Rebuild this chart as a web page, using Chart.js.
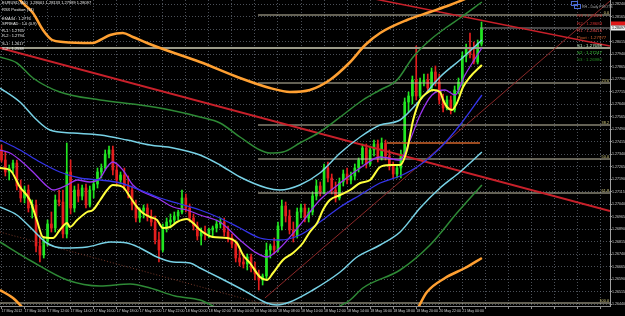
<!DOCTYPE html>
<html>
<head>
<meta charset="utf-8">
<script src="https://cdn.jsdelivr.net/npm/chart.js@4.4.1/dist/chart.umd.min.js"></script>
<style>
  html, body { margin: 0; padding: 0; background: #000; }
  canvas { display: block; background: #000; }
</style>
</head>
<body>
<canvas id="chart" width="625" height="316"></canvas>
<script>
// EURUSD bars, left to right
const opens = [
  1.27365, 1.27305, 1.27233, 1.27257, 1.27287, 1.27149, 1.27077, 1.27125, 1.27017, 1.27035,
  1.26789, 1.26735, 1.26819, 1.26921, 1.26897, 1.27065, 1.27053, 1.26861, 1.27233, 1.27017,
  1.27125, 1.27089, 1.27137, 1.27035, 1.27125, 1.27161, 1.27233, 1.27257, 1.27341, 1.27365,
  1.27245, 1.27185, 1.27215, 1.27149, 1.27125, 1.27035, 1.26957, 1.26999, 1.27017, 1.26963,
  1.26933, 1.26825, 1.26765, 1.26897, 1.26933, 1.26945, 1.26969, 1.26993, 1.27077, 1.27017,
  1.26957, 1.26909, 1.26849, 1.26873, 1.26861, 1.26885, 1.26897, 1.26921, 1.26933, 1.26873,
  1.26837, 1.26801, 1.26717, 1.26693, 1.26681, 1.26723, 1.26657, 1.26621, 1.26585, 1.26609,
  1.26765, 1.26789, 1.26765, 1.26909, 1.27029, 1.26969, 1.26885, 1.26849, 1.26993, 1.27017,
  1.26957, 1.26993, 1.27089, 1.27149, 1.27113, 1.27257, 1.27197, 1.27125, 1.27077, 1.27173,
  1.27221, 1.27185, 1.27209, 1.27257, 1.27305, 1.27377, 1.27281, 1.27365, 1.27401, 1.27317,
  1.27407, 1.27329, 1.27269, 1.27221, 1.27257, 1.27341, 1.27653, 1.27689, 1.27785, 1.27689,
  1.27773, 1.27785, 1.27737, 1.27833, 1.27773, 1.27665, 1.27617, 1.27665, 1.27605, 1.27725,
  1.27773, 1.27929, 1.27977, 1.27941, 1.27893, 1.28001
];
const highs = [
  1.27395, 1.27353, 1.27275, 1.27305, 1.27305, 1.27185, 1.27149, 1.27155, 1.27065, 1.27065,
  1.26855, 1.26837, 1.26945, 1.26993, 1.27095, 1.27125, 1.27125, 1.27407, 1.27305, 1.27149,
  1.27161, 1.27155, 1.27161, 1.27149, 1.27185, 1.27257, 1.27281, 1.27365, 1.27389, 1.27389,
  1.27275, 1.27233, 1.27257, 1.27209, 1.27149, 1.27065, 1.27017, 1.27035, 1.27041, 1.27005,
  1.26969, 1.26873, 1.26921, 1.26957, 1.26981, 1.26993, 1.27005, 1.27125, 1.27101, 1.27041,
  1.26981, 1.26933, 1.26897, 1.26909, 1.26897, 1.26909, 1.26945, 1.26957, 1.26957, 1.26909,
  1.26861, 1.26825, 1.26765, 1.26741, 1.26741, 1.26741, 1.26693, 1.26645, 1.26621, 1.26807,
  1.26801, 1.26837, 1.26933, 1.27065, 1.27053, 1.27005, 1.26933, 1.27017, 1.27041, 1.27041,
  1.27017, 1.27113, 1.27185, 1.27173, 1.27281, 1.27293, 1.27221, 1.27173, 1.27197, 1.27245,
  1.27257, 1.27233, 1.27281, 1.27317, 1.27401, 1.27401, 1.27389, 1.27425, 1.27425, 1.27437,
  1.27425, 1.27365, 1.27293, 1.27275, 1.27365, 1.27677, 1.27713, 1.27809, 1.27989, 1.27797,
  1.27821, 1.27821, 1.27857, 1.27869, 1.27821, 1.27701, 1.27689, 1.27689, 1.27749, 1.27797,
  1.27953, 1.28001, 1.28067, 1.28013, 1.28025, 1.28133
];
const lows = [
  1.27293, 1.27209, 1.27185, 1.27227, 1.27125, 1.27053, 1.27047, 1.26993, 1.26957, 1.26753,
  1.26693, 1.26717, 1.26789, 1.26873, 1.26873, 1.27029, 1.26837, 1.26837, 1.26981, 1.26993,
  1.27053, 1.27065, 1.27017, 1.27023, 1.27077, 1.27137, 1.27197, 1.27245, 1.27317, 1.27215,
  1.27155, 1.27161, 1.27125, 1.27077, 1.27005, 1.26933, 1.26933, 1.26957, 1.26939, 1.26909,
  1.26801, 1.26693, 1.26753, 1.26873, 1.26897, 1.26921, 1.26945, 1.26981, 1.26993, 1.26933,
  1.26885, 1.26825, 1.26795, 1.26825, 1.26837, 1.26849, 1.26873, 1.26897, 1.26849, 1.26813,
  1.26777, 1.26693, 1.26669, 1.26657, 1.26645, 1.26633, 1.26585, 1.26525, 1.26555, 1.26585,
  1.26717, 1.26741, 1.26753, 1.26885, 1.26933, 1.26861, 1.26813, 1.26837, 1.26957, 1.26933,
  1.26933, 1.26975, 1.27065, 1.27089, 1.27101, 1.27173, 1.27101, 1.27053, 1.27065, 1.27149,
  1.27161, 1.27161, 1.27185, 1.27233, 1.27281, 1.27257, 1.27269, 1.27329, 1.27293, 1.27305,
  1.27305, 1.27245, 1.27197, 1.27197, 1.27197, 1.27329, 1.27593, 1.27641, 1.27665, 1.27677,
  1.27749, 1.27713, 1.27725, 1.27749, 1.27641, 1.27593, 1.27605, 1.27581, 1.27593, 1.27701,
  1.27749, 1.27893, 1.27917, 1.27881, 1.27881, 1.27989
];
const closes = [
  1.27305, 1.27233, 1.27257, 1.27287, 1.27149, 1.27077, 1.27125, 1.27017, 1.27035, 1.26789,
  1.26735, 1.26819, 1.26921, 1.26897, 1.27065, 1.27053, 1.26861, 1.27233, 1.27017, 1.27125,
  1.27089, 1.27137, 1.27035, 1.27125, 1.27161, 1.27233, 1.27257, 1.27341, 1.27365, 1.27245,
  1.27185, 1.27215, 1.27149, 1.27125, 1.27035, 1.26957, 1.26999, 1.27017, 1.26963, 1.26933,
  1.26825, 1.26765, 1.26897, 1.26933, 1.26945, 1.26969, 1.26993, 1.27077, 1.27017, 1.26957,
  1.26909, 1.26849, 1.26873, 1.26861, 1.26885, 1.26897, 1.26921, 1.26933, 1.26873, 1.26837,
  1.26801, 1.26717, 1.26693, 1.26681, 1.26723, 1.26657, 1.26621, 1.26585, 1.26609, 1.26765,
  1.26789, 1.26765, 1.26909, 1.27029, 1.26969, 1.26885, 1.26849, 1.26993, 1.27017, 1.26957,
  1.26993, 1.27089, 1.27149, 1.27113, 1.27257, 1.27197, 1.27125, 1.27077, 1.27173, 1.27221,
  1.27185, 1.27209, 1.27257, 1.27305, 1.27377, 1.27281, 1.27365, 1.27401, 1.27317, 1.27407,
  1.27329, 1.27269, 1.27221, 1.27257, 1.27341, 1.27653, 1.27689, 1.27785, 1.27689, 1.27773,
  1.27785, 1.27737, 1.27833, 1.27773, 1.27665, 1.27617, 1.27665, 1.27605, 1.27725, 1.27773,
  1.27929, 1.27977, 1.27941, 1.27893, 1.28001, 1.28097
];

// indicator lines, [bar, price]
const maFast = [[-0.4,1.27257],[2.2,1.27245],[4.8,1.27143],[7.4,1.27065],[9.2,1.26945],[10.8,1.26843],[13.4,1.26837],[15.2,1.26885],[17.1,1.26927],[17.8,1.26903],[19.7,1.26945],[22.3,1.26993],[23.8,1.27005],[25.7,1.27065],[27.5,1.27125],[29,1.27155],[31.6,1.27143],[33.5,1.27083],[35.3,1.27023],[36.8,1.26987],[38.7,1.26963],[40.5,1.26945],[42,1.26897],[43.9,1.26903],[45.7,1.26933],[48.3,1.26951],[49.9,1.26927],[51.7,1.26885],[55,1.26843],[58.7,1.26837],[61.3,1.26807],[62.9,1.26735],[64.7,1.26687],[67.3,1.26603],[69.1,1.26585],[70.7,1.26627],[73.3,1.26705],[75.9,1.26747],[78.5,1.26807],[80.3,1.26873],[82.2,1.26927],[83.7,1.27005],[85.5,1.27065],[88.2,1.27095],[90.8,1.27125],[93.4,1.27167],[96,1.27185],[98.6,1.27263],[101.2,1.27275],[103.8,1.27275],[105.6,1.27365],[107.2,1.27545],[109,1.27665],[110.8,1.27707],[112.4,1.27725],[114.2,1.27713],[115,1.27665],[116,1.27623],[117.3,1.27605],[118.6,1.27647],[120.2,1.27743],[122,1.27803],[125.1,1.27875]];
const maMid = [[-0.4,1.27365],[2.2,1.27347],[4.8,1.27305],[8.2,1.27233],[11.8,1.27149],[13.4,1.27125],[17.1,1.27155],[19.7,1.27185],[23,1.27173],[25.7,1.27197],[27.5,1.27263],[29,1.27293],[31.6,1.27245],[34.2,1.27155],[36.8,1.27113],[40.5,1.27077],[44.7,1.27023],[48.3,1.27005],[51.7,1.26975],[56.9,1.26933],[62.1,1.26825],[66,1.26753],[69.1,1.26723],[72.5,1.26777],[77.7,1.26915],[82.9,1.27065],[88.2,1.27167],[93.4,1.27257],[98.6,1.27323],[103.8,1.27305],[106.4,1.27425],[109,1.27575],[112.1,1.27695],[115.5,1.27725],[118.1,1.27695],[120.7,1.27815],[125.1,1.27977]];
const maSlow = [[-0.4,1.27425],[4.8,1.27365],[10,1.27293],[15.2,1.27233],[20.4,1.27197],[25.7,1.27185],[30.9,1.27167],[36.1,1.27125],[41.3,1.27077],[46.5,1.27041],[51.7,1.27005],[56.9,1.26957],[62.1,1.26897],[67.3,1.26837],[72.5,1.26825],[77.7,1.26855],[82.9,1.26933],[88.2,1.27023],[93.4,1.27095],[98.6,1.27167],[103.8,1.27209],[109,1.27275],[114.2,1.27377],[119.4,1.27515],[125.1,1.27695]];
const bandInUp = [[-0.4,1.27737],[4.8,1.27653],[9.2,1.27545],[12.6,1.27485],[18.6,1.27467],[25.7,1.27455],[32.7,1.27425],[38.7,1.27395],[44.7,1.27377],[51.7,1.27335],[56.9,1.27275],[62.1,1.27203],[69.1,1.27137],[72.5,1.27125],[77.7,1.27155],[82.9,1.27227],[88.2,1.27347],[93.4,1.27443],[98.6,1.27515],[103.8,1.27545],[109,1.27665],[114.2,1.27803],[119.4,1.27905],[125.1,1.28025]];
const bandInLow = [[-0.4,1.27023],[4,1.26975],[8.2,1.26885],[11.8,1.26807],[16,1.26777],[22.3,1.26783],[28.3,1.26813],[32.7,1.26807],[36.1,1.26777],[40.5,1.26723],[44.7,1.26693],[49.1,1.26687],[51.7,1.26657],[56.9,1.26597],[62.9,1.26525],[69.1,1.26447],[71.7,1.26435],[75.1,1.26453],[81.1,1.26525],[88.2,1.26633],[92.6,1.26723],[98.6,1.26795],[103.8,1.26873],[109,1.27017],[114.2,1.27137],[119.4,1.27233],[125.1,1.27353]];
const bandMidUp = [[-0.4,1.27923],[4,1.27887],[8.2,1.27797],[15.2,1.27713],[25.7,1.27665],[36.1,1.27635],[43.9,1.27605],[51.7,1.27563],[56.9,1.27527],[62.1,1.27443],[67.3,1.27365],[69.9,1.27347],[73.3,1.27353],[77.7,1.27407],[82.9,1.27473],[88.9,1.27575],[94.1,1.27665],[98.6,1.27725],[103,1.27785],[107.2,1.27923],[111.6,1.28025],[116,1.28103],[119.4,1.28157],[125.1,1.28253]];
const bandMidLow = [[-0.4,1.26813],[8.2,1.26693],[17.1,1.26585],[25.7,1.26549],[33.5,1.26561],[38.7,1.26537],[45.2,1.26489],[51.7,1.26465],[55.6,1.26423],[60.8,1.26357],[67.3,1.26309],[75.1,1.26297],[82.9,1.26357],[88.2,1.26429],[90.8,1.26465],[94.1,1.26537],[103.8,1.26645],[111.6,1.26795],[118.6,1.26987],[125.1,1.27155]];
const bandOutUp = [[-0.4,1.28445],[4.8,1.28265],[8.2,1.28187],[10.8,1.28085],[13.2,1.28025],[16,1.28013],[23.8,1.28007],[25.7,1.28025],[28.3,1.28055],[31.6,1.28067],[34.2,1.28043],[37.9,1.28007],[41.3,1.27977],[51.7,1.27893],[62.1,1.27797],[69.9,1.27737],[75.1,1.27713],[80.3,1.27725],[85.5,1.27785],[90.8,1.27893],[94.7,1.27995],[98.6,1.28067],[105.6,1.28145],[111.6,1.28193],[116.8,1.28235],[125.1,1.28313]];
const bandOutLow = [[-0.4,1.26525],[3,1.26477],[6.1,1.26405],[10,1.26315],[30.9,1.26195],[64.7,1.26135],[98.6,1.26225],[107.2,1.26369],[110.8,1.26513],[115.5,1.26597],[120.7,1.26657],[125.1,1.26717]];

// drawn objects
const trendMain = [[-0.4,1.27977],[158.46,1.26999]];
const trendTop = [[95.9,1.28277],[158.46,1.27989]];
const trendRise = [[68.6,1.26477],[158.46,1.28259]];
const channelLow = [[-0.4,1.26873],[77.7,1.26381]];
const fibStart = 66.8;
const fibLevels = [1.28175, 1.27767, 1.27515, 1.27311, 1.27107, 1.26447];
const fibNames = ['0.0', '23.6', '38.2', '50.0', '61.8', '100.0'];
const pivotLevel = 1.27977;
const boxLevel = [[100.4,1.27407],[124.6,1.27407]];
const bidPrice = 1.28097;

// axes
const priceTicks = [1.28240, 1.28165, 1.28090, 1.28015, 1.27940, 1.27865, 1.27790, 1.27715, 1.27640,
  1.27565, 1.27490, 1.27415, 1.27340, 1.27265, 1.27190, 1.27115, 1.27040, 1.26965, 1.26890,
  1.26815, 1.26740, 1.26665, 1.26590, 1.26515, 1.26440];
const timeTicks = [0, 6, 12, 18, 24, 30, 36, 42, 48, 54, 60, 66, 72, 78, 84, 90, 96, 102, 108, 114, 120,
  126, 132, 138, 144, 150, 156];
const timeLabels = ['17 May 2012', '17 May 10:00', '17 May 12:00', '17 May 14:00', '17 May 16:00',
  '17 May 18:00', '17 May 20:00', '17 May 22:00', '18 May 00:00', '18 May 02:00', '18 May 04:00',
  '18 May 06:00', '18 May 08:00', '18 May 10:00', '18 May 12:00', '18 May 14:00', '18 May 16:00',
  '18 May 18:00', '18 May 20:00', '20 May 22:00', '21 May 00:00'];

// text blocks
const infoLines = ['EURUSD,M20  1.28001 1.28133 1.27989 1.28097', 'RSX Position (14)', 'EMA34 : 1.2776',
  'SPREAD : 1.0 (0.9)', 'R-1 : 1.2765', 'R-2 : 1.2794', 'S-1 : 1.2617', 'S-2 : 1.2538'];
const pivotNames = ['R3', 'R2', 'R1', 'Pivot', 'S1', 'S2', 'S3'];
const pivotValues = ['1.29003', '1.28683', '1.28416', '1.27977', '1.27698', '1.27247', '1.26980'];

const X_MIN = -0.39, X_MAX = 158.46;
const Y_MIN = 1.26429, Y_MAX = 1.28265;

const UP = '#22e622', DOWN = '#e41e1e';
const candleColor = c => closes[c.dataIndex] >= opens[c.dataIndex] ? UP : DOWN;

function lineSet(points, color, width, extra) {
    return Object.assign({
        type: 'line',
        data: points.map(p => ({ x: p[0], y: p[1] })),
        borderColor: color,
        borderWidth: width,
        pointRadius: 0,
        fill: false,
        cubicInterpolationMode: 'monotone',
        clip: 0,
        order: 2
    }, extra || {});
}

const straight = { cubicInterpolationMode: 'default', tension: 0 };

const datasets = [
    {
        type: 'bar',
        data: opens.map((o, i) => ({ x: i, y: [lows[i], highs[i]] })),
        backgroundColor: candleColor,
        barThickness: 1,
        grouped: false,
        borderWidth: 0,
        order: 10
    },
    {
        type: 'bar',
        data: opens.map((o, i) => ({ x: i, y: [o, closes[i]] })),
        backgroundColor: candleColor,
        barThickness: 2,
        grouped: false,
        borderWidth: 0,
        order: 9
    },
    lineSet(bandOutUp, '#ffa032', 2.5),
    lineSet(bandOutLow, '#ffa032', 2.5),
    lineSet(bandMidUp, '#2e8a36', 1.5),
    lineSet(bandMidLow, '#2e8a36', 1.5),
    lineSet(bandInUp, '#78d2e6', 1.5),
    lineSet(bandInLow, '#78d2e6', 1.5),
    lineSet(maSlow, '#3434e8', 1.3),
    lineSet(maMid, '#9a34f0', 1.3),
    lineSet(maFast, '#ffff3c', 2, { order: 1 }),
    lineSet(trendMain, '#c8202a', 2, straight),
    lineSet(trendTop, '#c8202a', 1.5, straight),
    lineSet(trendRise, '#8c2828', 1, straight),
    lineSet(channelLow, '#7a3a2a', 1, Object.assign({ borderDash: [1, 2] }, straight)),
    lineSet([[X_MIN, pivotLevel], [X_MAX, pivotLevel]], '#9a9a88', 2, straight),
    lineSet(boxLevel, '#d2642a', 1.5, straight),
    lineSet([[124.6, bidPrice], [X_MAX, bidPrice]], '#8a8a8a', 1, straight)
];

fibLevels.forEach((v, i) => {
    const from = i === fibLevels.length - 1 ? X_MIN : fibStart;
    datasets.push(lineSet([[from, v], [X_MAX, v]], '#c8c3aa', 1, straight));
});

// texts MT4 draws on top of the chart
const overlayText = {
    id: 'overlayText',
    afterDraw(chart) {
        const { ctx, scales: { y } } = chart;
        ctx.save();
        ctx.textBaseline = 'middle';

        ctx.font = '4px Arial';
        ctx.fillStyle = '#e6e6e6';
        const rows = [3, 10, 19, 24, 31, 36, 44, 49];
        infoLines.forEach((t, i) => ctx.fillText(t, 2, rows[i]));

        // pivot block, top right
        ctx.strokeStyle = '#4a6ad0';
        ctx.lineWidth = 1;
        ctx.strokeRect(571.5, 1.5, 6, 4);
        ctx.strokeRect(574.5, 4.5, 6, 4);
        ctx.font = '3.6px Arial';
        ctx.fillStyle = '#a8a8a8';
        ctx.fillText('RH - Daily PIVOTS', 582, 7);
        const pColors = ['#a82222', '#d03030', '#e04a4a', '#d2622e', '#c8f5c8', '#3cc83c', '#238c23'];
        const pRows = [16, 24, 31, 38, 46, 53, 60];
        ctx.font = '4.4px Arial';
        pivotNames.forEach((n, i) => {
            ctx.fillStyle = pColors[i];
            ctx.fillText(n + ' : ' + pivotValues[i], 577, pRows[i]);
        });

        // fibo level names
        ctx.font = '3.8px Arial';
        ctx.fillStyle = '#d8d080';
        ctx.textAlign = 'right';
        ctx.textBaseline = 'bottom';
        fibLevels.forEach((v, i) => ctx.fillText(fibNames[i], 609, y.getPixelForValue(v)));

        // bid / ask labels on the price axis
        const by = y.getPixelForValue(bidPrice);
        ctx.fillStyle = '#e01818';
        ctx.fillRect(611, by - 6.5, 14, 4);
        ctx.fillStyle = '#f0f0f0';
        ctx.fillRect(611, by - 2.5, 14, 5);
        ctx.fillStyle = '#000';
        ctx.textAlign = 'left';
        ctx.textBaseline = 'middle';
        ctx.font = '3.6px Arial';
        ctx.fillText(bidPrice.toFixed(5), 612, by);
        ctx.restore();
    }
};

const gridColor = 'rgba(150, 160, 175, 0.5)';
const tickFont = { family: 'Arial', size: 3.6 };

new Chart(document.getElementById('chart'), {
    type: 'bar',
    data: { datasets: datasets },
    options: {
        responsive: false,
        animation: false,
        devicePixelRatio: 1,
        events: [],
        layout: { padding: 0 },
        plugins: {
            legend: { display: false },
            tooltip: { enabled: false }
        },
        scales: {
            x: {
                type: 'linear',
                min: X_MIN,
                max: X_MAX,
                offset: false,
                grid: { offset: false, color: gridColor, tickLength: 3, tickColor: '#909090' },
                border: { display: true, color: '#8a8a8a', dash: [1, 2] },
                ticks: {
                    autoSkip: false,
                    maxRotation: 0,
                    align: 'start',
                    padding: 0,
                    color: '#d0d0d0',
                    font: tickFont,
                    callback: v => timeLabels[v / 6] || ''
                },
                afterBuildTicks: s => { s.ticks = timeTicks.map(v => ({ value: v })); },
                afterFit: s => {
                    s.height = 10;
                    s.paddingLeft = 0;
                    s.paddingRight = 0;
                }
            },
            y: {
                type: 'linear',
                position: 'right',
                min: Y_MIN,
                max: Y_MAX,
                beginAtZero: false,
                grid: { color: gridColor, tickLength: 2, tickColor: '#909090' },
                border: { display: true, color: '#a0a0a0', dash: [1, 2] },
                ticks: {
                    autoSkip: false,
                    padding: 0,
                    color: '#d0d0d0',
                    font: tickFont,
                    callback: v => v.toFixed(5)
                },
                afterBuildTicks: s => { s.ticks = priceTicks.map(v => ({ value: v })); },
                afterFit: s => {
                    s.width = 15;
                    s.paddingTop = 0;
                    s.paddingBottom = 0;
                }
            }
        }
    },
    plugins: [overlayText]
});
</script>
</body>
</html>
